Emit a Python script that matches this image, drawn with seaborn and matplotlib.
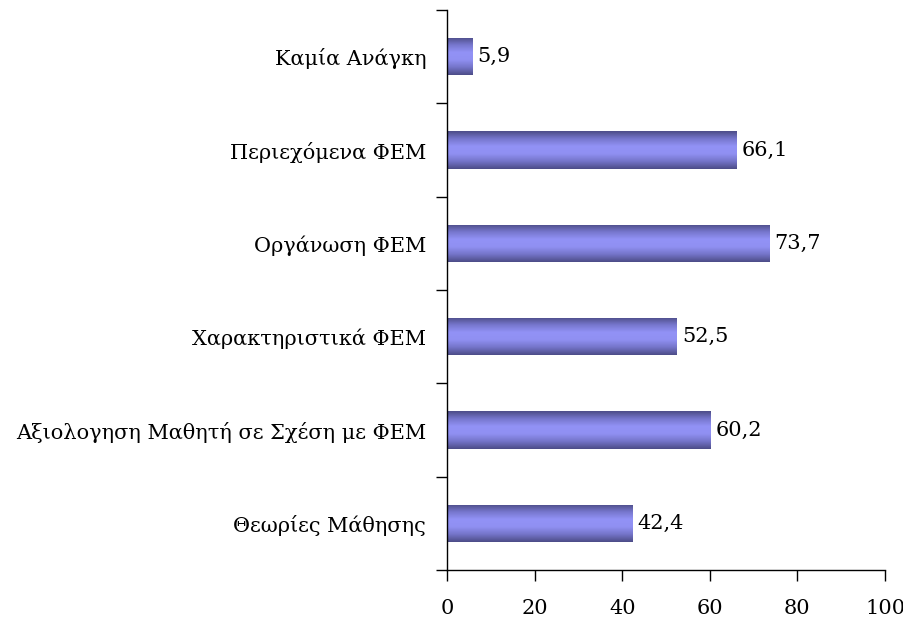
import numpy as np
import pandas as pd
import seaborn as sns
import matplotlib.pyplot as plt
from matplotlib.colors import LinearSegmentedColormap

categories = [
    "Καμία Ανάγκη",
    "Περιεχόμενα ΦΕΜ",
    "Οργάνωση ΦΕΜ",
    "Χαρακτηριστικά ΦΕΜ",
    "Αξιολογηση Μαθητή σε Σχέση με ΦΕΜ",
    "Θεωρίες Μάθησης",
]
values = [5.9, 66.1, 73.7, 52.5, 60.2, 42.4]
value_labels = ["5,9", "66,1", "73,7", "52,5", "60,2", "42,4"]
xticks = [0, 20, 40, 60, 80, 100]

sns.set_theme(style="white")
plt.rcParams["font.family"] = ["DejaVu Serif"]
plt.rcParams["text.color"] = "black"
plt.rcParams["xtick.color"] = "black"
plt.rcParams["ytick.color"] = "black"

df = pd.DataFrame({"category": categories, "value": values})

fig = plt.figure(figsize=(9.04, 6.21), dpi=100)
ax = fig.add_axes([0.4945, 0.0821, 0.4845, 0.9018])

sns.barplot(data=df, x="value", y="category", orient="h", width=0.4,
            color="#8080e0", ax=ax, linewidth=0)

# cylinder-style shading on every bar
shade = LinearSegmentedColormap.from_list(
    "tube", ["#4c4c86", "#7676cc", "#9292f6", "#9090f2", "#7474c8", "#4c4c86"])
grad = np.linspace(0, 1, 256).reshape(-1, 1)
for patch in ax.patches:
    x0, y0 = patch.get_x(), patch.get_y()
    w, h = patch.get_width(), patch.get_height()
    patch.set_facecolor("none")
    im = ax.imshow(grad, cmap=shade, aspect="auto",
                   extent=[x0, x0 + w, y0 + h, y0], zorder=2,
                   interpolation="bicubic")
    im.set_clip_path(patch)

ax.set_xlim(0, 100)
ax.set_ylim(len(categories) - 0.5, -0.5)

for i, (v, lab) in enumerate(zip(values, value_labels)):
    ax.text(v + 1.1, i, lab, va="center", ha="left", fontsize=15, color="black")

# category boundaries carry the tick marks, centres carry the names
ax.set_yticks(np.arange(-0.5, len(categories), 1.0))
ax.set_yticklabels([])
ax.set_yticks(np.arange(len(categories)), minor=True)
ax.set_yticklabels(categories, minor=True, fontsize=15)
ax.tick_params(axis="y", which="major", direction="out", length=8, width=1,
               color="black", left=True)
ax.tick_params(axis="y", which="minor", length=0, pad=15, labelcolor="black")

ax.set_xticks(xticks)
ax.set_xticklabels([str(t) for t in xticks], fontsize=15)
ax.tick_params(axis="x", direction="out", length=8, width=1, color="black",
               bottom=True, pad=13, labelcolor="black")

ax.set_xlabel("")
ax.set_ylabel("")
for side in ["top", "right"]:
    ax.spines[side].set_visible(False)
ax.spines["left"].set_color("black")
ax.spines["bottom"].set_color("black")
ax.spines["left"].set_linewidth(1)
ax.spines["bottom"].set_linewidth(1)
ax.grid(False)

fig.savefig("out.png", dpi=100)
